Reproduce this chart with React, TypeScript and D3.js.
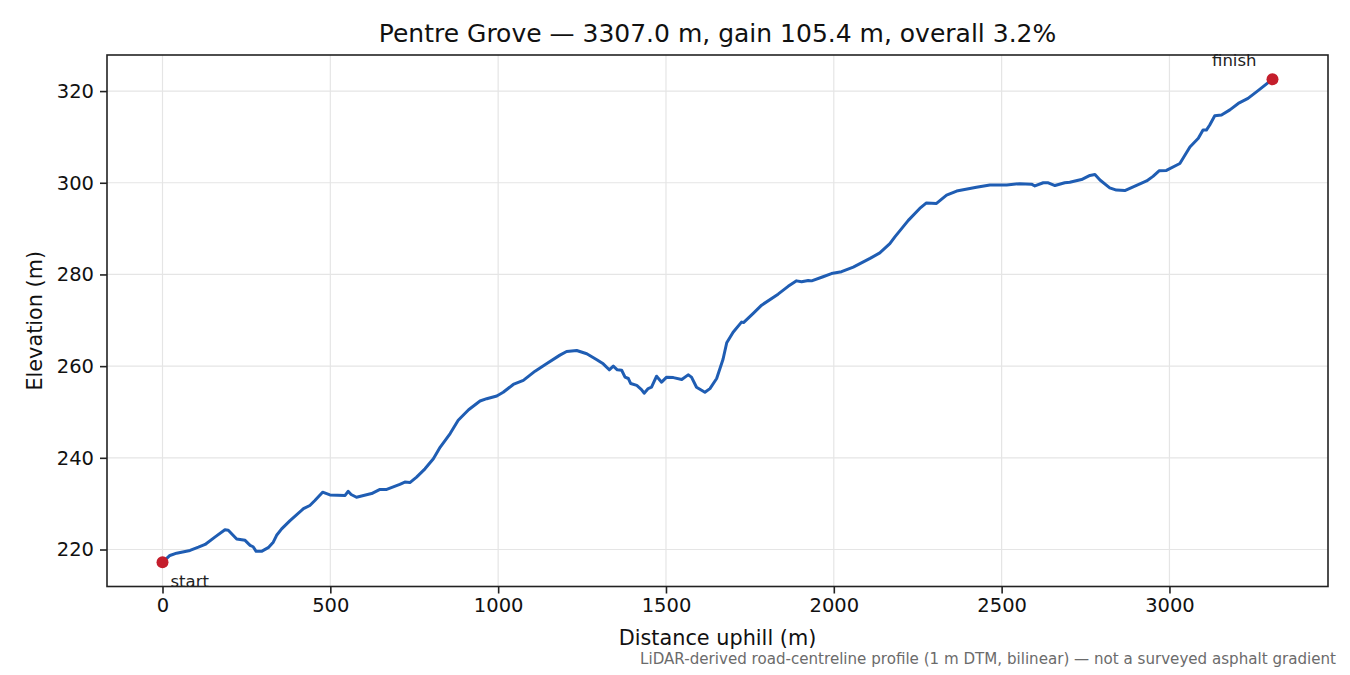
// App.tsx
// Pentre Grove elevation profile, drawn with d3 into an svg ref
import React, { useEffect, useRef } from "react";
import * as d3 from "d3";

// distance uphill (m) and elevation (m)
const distances = [
  0, 22, 42, 82, 107, 127, 156, 186, 196, 221, 246, 261, 270, 279, 295, 315, 330, 340, 355, 380,
  420, 439, 454, 477, 499, 544, 553, 562, 578, 623, 648, 668, 707, 722, 737, 757, 782, 807, 827, 857,
  881, 912, 946, 966, 996, 1015, 1045, 1075, 1110, 1144, 1184, 1204, 1234, 1264, 1294, 1313, 1331, 1343, 1355, 1368,
  1378, 1388, 1395, 1413, 1427, 1435, 1447, 1457, 1472, 1487, 1502, 1522, 1547, 1566, 1576, 1591, 1616, 1631, 1651, 1670,
  1681, 1700, 1725, 1731, 1760, 1785, 1834, 1864, 1889, 1904, 1924, 1934, 1968, 1993, 2023, 2058, 2108, 2137, 2167, 2182,
  2222, 2256, 2276, 2306, 2336, 2366, 2425, 2465, 2515, 2554, 2589, 2599, 2624, 2639, 2659, 2688, 2703, 2738, 2763, 2778,
  2793, 2822, 2842, 2867, 2892, 2932, 2951, 2969, 2991, 3031, 3046, 3061, 3086, 3100, 3110, 3120, 3135, 3155, 3180, 3205,
  3234, 3264, 3307,
];
const elevations = [
  217.2, 218.7, 219.2, 219.8, 220.5, 221.1, 222.7, 224.3, 224.2, 222.3, 222.0, 220.9, 220.6, 219.6, 219.6, 220.4, 221.6, 223.1, 224.5, 226.3,
  228.9, 229.6, 230.7, 232.5, 231.9, 231.8, 232.7, 232.0, 231.4, 232.2, 233.1, 233.1, 234.2, 234.7, 234.6, 235.8, 237.6, 239.8, 242.3, 245.3,
  248.2, 250.5, 252.4, 252.9, 253.5, 254.3, 256.0, 256.9, 258.9, 260.5, 262.4, 263.2, 263.4, 262.7, 261.4, 260.5, 259.2, 260.0, 259.2, 259.1,
  257.6, 257.3, 256.2, 255.8, 254.9, 254.1, 255.1, 255.4, 257.8, 256.5, 257.6, 257.5, 257.1, 258.1, 257.6, 255.4, 254.3, 255.1, 257.3, 261.5,
  265.1, 267.4, 269.6, 269.5, 271.5, 273.3, 275.7, 277.4, 278.6, 278.4, 278.7, 278.6, 279.5, 280.2, 280.6, 281.6, 283.5, 284.7, 286.7, 288.2,
  291.8, 294.4, 295.6, 295.5, 297.3, 298.2, 299.0, 299.5, 299.5, 299.8, 299.7, 299.3, 300.0, 300.0, 299.4, 300.0, 300.1, 300.7, 301.6, 301.8,
  300.6, 298.9, 298.4, 298.3, 299.1, 300.4, 301.4, 302.6, 302.7, 304.2, 306.0, 307.8, 309.7, 311.5, 311.5, 312.6, 314.6, 314.8, 315.9, 317.3,
  318.4, 320.1, 322.6,
];

const xTicks = [0, 500, 1000, 1500, 2000, 2500, 3000];
const yTicks = [220, 240, 260, 280, 300, 320];

const title = "Pentre Grove — 3307.0 m, gain 105.4 m, overall 3.2%";
const footnote = "LiDAR-derived road-centreline profile (1 m DTM, bilinear) — not a surveyed asphalt gradient";

const W = 1350;
const H = 675;
const box = { left: 107, right: 1328, top: 55, bottom: 586.5 };
const FONT = "DejaVu Sans, sans-serif";

export default function App() {
  const ref = useRef<SVGSVGElement>(null);

  useEffect(() => {
    document.body.style.margin = "0";
    const svg = d3.select(ref.current);
    svg.selectAll("*").remove();

    const points = distances.map((d, i) => ({ d, e: elevations[i] }));
    const dMin = d3.min(distances) as number;
    const dMax = d3.max(distances) as number;
    const eMin = d3.min(elevations) as number;
    const eMax = d3.max(elevations) as number;
    const padX = (dMax - dMin) * 0.05;
    const padY = (eMax - eMin) * 0.05;

    const x = d3.scaleLinear().domain([dMin - padX, dMax + padX]).range([box.left, box.right]);
    const y = d3.scaleLinear().domain([eMin - padY, eMax + padY]).range([box.bottom, box.top]);

    svg.append("rect").attr("width", W).attr("height", H).attr("fill", "#fff");

    // grid
    const grid = svg.append("g").attr("stroke", "#e5e5e5").attr("stroke-width", 1.2);
    grid.selectAll("line.gx").data(xTicks).enter().append("line")
      .attr("x1", d => x(d)).attr("x2", d => x(d))
      .attr("y1", box.top).attr("y2", box.bottom);
    grid.selectAll("line.gy").data(yTicks).enter().append("line")
      .attr("x1", box.left).attr("x2", box.right)
      .attr("y1", d => y(d)).attr("y2", d => y(d));

    // profile
    const line = d3.line<{ d: number; e: number }>().x(p => x(p.d)).y(p => y(p.e));
    svg.append("path")
      .datum(points)
      .attr("d", line)
      .attr("fill", "none")
      .attr("stroke", "#1f5db3")
      .attr("stroke-width", 3)
      .attr("stroke-linejoin", "round")
      .attr("stroke-linecap", "round");

    // start / finish markers
    const first = points[0];
    const last = points[points.length - 1];
    svg.selectAll("circle.end").data([first, last]).enter().append("circle")
      .attr("cx", p => x(p.d)).attr("cy", p => y(p.e)).attr("r", 6)
      .attr("fill", "#c41e2c");
    svg.append("text")
      .attr("x", x(first.d) + 8).attr("y", y(first.e) + 25)
      .attr("font-family", FONT).attr("font-size", 16.5).attr("fill", "#222")
      .text("start");
    svg.append("text")
      .attr("x", x(last.d) - 16).attr("y", y(last.e) - 13)
      .attr("text-anchor", "end")
      .attr("font-family", FONT).attr("font-size", 16.5).attr("fill", "#222")
      .text("finish");

    // axes frame
    svg.append("rect")
      .attr("x", box.left).attr("y", box.top)
      .attr("width", box.right - box.left).attr("height", box.bottom - box.top)
      .attr("fill", "none").attr("stroke", "#222").attr("stroke-width", 1.6);

    const xAxis = svg.append("g")
      .attr("transform", `translate(0,${box.bottom})`)
      .call(d3.axisBottom(x).tickValues(xTicks).tickSize(7).tickPadding(5).tickFormat(d3.format("d")));
    const yAxis = svg.append("g")
      .attr("transform", `translate(${box.left},0)`)
      .call(d3.axisLeft(y).tickValues(yTicks).tickSize(7).tickPadding(6).tickFormat(d3.format("d")));
    [xAxis, yAxis].forEach(g => {
      g.select(".domain").remove();
      g.selectAll(".tick line").attr("stroke", "#222").attr("stroke-width", 1.6);
      g.selectAll(".tick text").attr("fill", "#111").attr("font-family", FONT).attr("font-size", 19.5);
    });

    // labels
    svg.append("text")
      .attr("x", (box.left + box.right) / 2).attr("y", 42)
      .attr("text-anchor", "middle")
      .attr("font-family", FONT).attr("font-size", 25).attr("fill", "#111")
      .text(title);
    svg.append("text")
      .attr("x", (box.left + box.right) / 2).attr("y", 645)
      .attr("text-anchor", "middle")
      .attr("font-family", FONT).attr("font-size", 20.8).attr("fill", "#111")
      .text("Distance uphill (m)");
    svg.append("text")
      .attr("transform", `translate(42,${(box.top + box.bottom) / 2}) rotate(-90)`)
      .attr("text-anchor", "middle")
      .attr("font-family", FONT).attr("font-size", 20.8).attr("fill", "#111")
      .text("Elevation (m)");
    svg.append("text")
      .attr("x", 1336).attr("y", 664)
      .attr("text-anchor", "end")
      .attr("font-family", FONT).attr("font-size", 15.1).attr("fill", "#6b6b6b")
      .text(footnote);
  }, []);

  return <svg ref={ref} width={W} height={H} style={{ display: "block" }} />;
}
